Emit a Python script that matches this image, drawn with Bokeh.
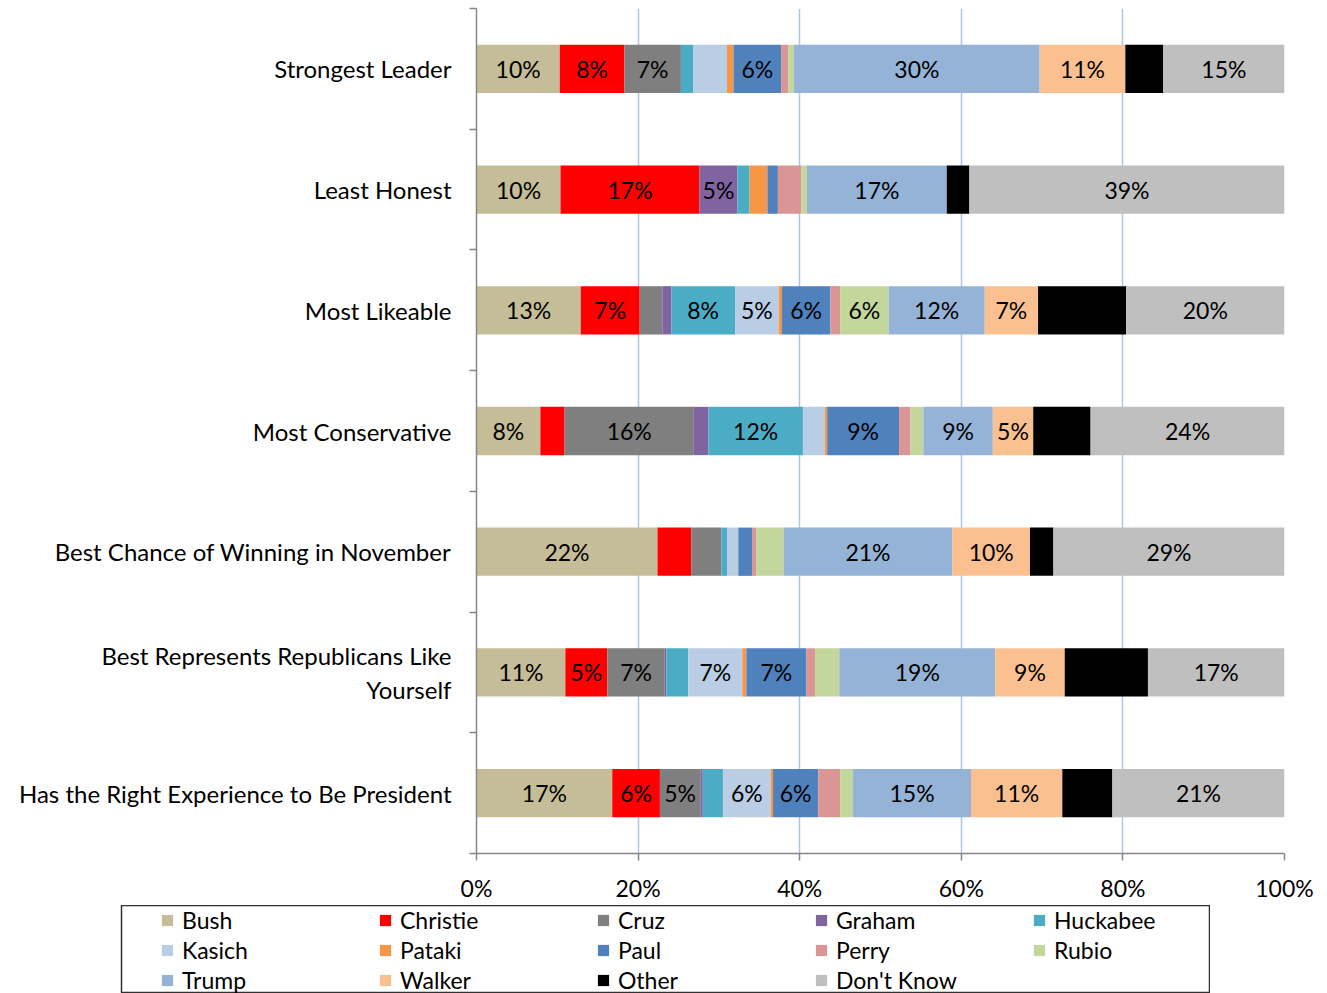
from bokeh.plotting import figure
from bokeh.models import (Range1d, LinearAxis, FixedTicker,
                          ColumnDataSource, Legend, LegendItem)
from bokeh.embed import file_html
from bokeh.resources import INLINE
from bokeh.core.properties import value
import numpy as np

categories = ["Strongest Leader", "Least Honest", "Most Likeable", "Most Conservative",
              "Best Chance of Winning in November", "Best Represents Republicans Like\nYourself",
              "Has the Right Experience to Be President"]
candidates = ["Bush", "Christie", "Cruz", "Graham", "Huckabee", "Kasich", "Pataki",
              "Paul", "Perry", "Rubio", "Trump", "Walker", "Other", "Don't Know"]
colors = ["#C4BD97", "#FF0000", "#7F7F7F", "#8064A2", "#4BACC6", "#B9CDE5", "#F79646",
          "#4F81BD", "#D99694", "#C3D69B", "#95B3D7", "#FAC090", "#000000", "#BFBFBF"]

bush       = [10.3, 10.4, 12.9, 7.9, 22.4, 11.0, 16.8]
christie   = [8.0, 17.2, 7.3, 3.0, 4.2, 5.2, 5.9]
cruz       = [7.0, 0.0, 2.8, 16.0, 3.7, 7.1, 5.0]
graham     = [0.0, 4.7, 1.1, 1.8, 0.0, 0.2, 0.3]
huckabee   = [1.5, 1.5, 7.9, 11.7, 0.7, 2.7, 2.5]
kasich     = [4.2, 0.0, 5.4, 2.7, 1.4, 6.7, 5.9]
pataki     = [0.8, 2.2, 0.4, 0.3, 0.0, 0.5, 0.3]
paul       = [5.9, 1.3, 6.0, 8.9, 1.7, 7.4, 5.6]
perry      = [0.9, 2.9, 1.2, 1.4, 0.5, 1.1, 2.7]
rubio      = [0.7, 0.7, 6.0, 1.6, 3.4, 3.0, 1.6]
trump      = [30.4, 17.3, 11.9, 8.6, 20.9, 19.3, 14.6]
walker     = [10.6, 0.0, 6.6, 5.0, 9.6, 8.6, 11.3]
other      = [4.7, 2.8, 10.9, 7.1, 2.9, 10.3, 6.2]
dont_know  = [15.0, 39.0, 19.6, 24.0, 28.6, 16.9, 21.3]

x_ticks = [0, 20, 40, 60, 80, 100]
x_tick_labels = ["0%", "20%", "40%", "60%", "80%", "100%"]

series = [bush, christie, cruz, graham, huckabee, kasich, pataki, paul, perry, rubio,
          trump, walker, other, dont_know]

FONT = "Lato"
FS_CAT = "24px"
FS = "23px"
AXIS_GRAY = "#868686"

n = len(categories)
ypos = [n - 0.5 - j for j in range(n)]  # first category on top

data = {"y": ypos}
for name, vals in zip(candidates, series):
    data[name] = vals
source = ColumnDataSource(data)

p = figure(width=1319, height=905, y_range=Range1d(0, n),
           x_range=Range1d(0, 100), y_axis_location=None, toolbar_location=None,
           output_backend="svg", min_border_left=476, min_border_right=35,
           min_border_top=8, min_border_bottom=52)
p.outline_line_color = None

p.hbar_stack(candidates, y="y", height=0.4, color=colors, line_color=None, source=source)

# data labels
arr = np.array(series)  # candidates x categories
cum = np.cumsum(arr, axis=0)
lx, ly, lt = [], [], []
for i, name in enumerate(candidates):
    if name == "Other":
        continue
    for j in range(n):
        v = arr[i, j]
        r = int(np.floor(v + 0.5))
        if r >= 5:
            lx.append(cum[i, j] - v / 2.0)
            ly.append(ypos[j])
            lt.append(f"{r}%")
p.text(x=lx, y=ly, text=lt, text_align="center", text_baseline="middle",
       text_font=value(FONT), text_font_size=FS, text_color="black")

# x axis
xa = p.xaxis[0]
xa.ticker = FixedTicker(ticks=x_ticks)
xa.major_label_overrides = {t: l for t, l in zip(x_ticks, x_tick_labels)}
xa.axis_line_color = AXIS_GRAY
xa.axis_line_width = 1.5
xa.major_tick_line_color = AXIS_GRAY
xa.major_tick_line_width = 1.5
xa.major_tick_out = 7
xa.major_tick_in = 0
xa.minor_tick_line_color = None
xa.major_label_text_font = FONT
xa.major_label_text_font_size = FS
xa.major_label_text_color = "black"
xa.major_label_standoff = 13

p.xgrid.ticker = FixedTicker(ticks=x_ticks)
p.xgrid.grid_line_color = "#AFC4E6"
p.xgrid.grid_line_width = 1.5
p.ygrid.visible = False

# category boundary ticks (axis line)
bnd = list(range(n + 1))
bax = LinearAxis(ticker=FixedTicker(ticks=bnd),
                 major_label_overrides={i: "" for i in bnd},
                 major_tick_out=7, major_tick_in=0, major_label_standoff=0,
                 major_label_text_font_size="1px",
                 axis_line_color=AXIS_GRAY, axis_line_width=1.5,
                 major_tick_line_color=AXIS_GRAY, major_tick_line_width=1.5,
                 minor_tick_line_color=None)
p.add_layout(bax, "left")

# category labels at the band centres
cax = LinearAxis(ticker=FixedTicker(ticks=ypos),
                 major_label_overrides={y: c for y, c in zip(ypos, categories)},
                 axis_line_color=None, major_tick_line_color=None, minor_tick_line_color=None,
                 major_tick_out=0, major_tick_in=0, major_label_standoff=18,
                 major_label_text_font=FONT, major_label_text_font_size=FS_CAT,
                 major_label_text_color="black")
p.add_layout(cax, "left")

# legend panel (separate root so its frame is not aligned to the chart's)
p2 = figure(width=1210, height=88, toolbar_location=None, output_backend="svg",
            x_range=Range1d(0, 1), y_range=Range1d(0, 1),
            x_axis_location=None, y_axis_location=None, min_border_left=121,
            min_border_right=0, min_border_top=0, min_border_bottom=0)
p2.outline_line_color = "#303030"
p2.outline_line_width = 1.5
p2.grid.visible = False
items = []
for name, c in zip(candidates, colors):
    r = p2.quad(left=[5], right=[6], top=[6], bottom=[5], fill_color=c, line_color=None)
    items.append(LegendItem(label=name, renderers=[r]))
leg = Legend(items=items, ncols=5, orientation="horizontal", location=(39, -1),
             padding=0, margin=0, spacing=2, glyph_width=14, glyph_height=14,
             label_width=194, label_height=28, label_standoff=8,
             label_text_font=FONT, label_text_font_size=FS, label_text_color="black",
             border_line_color=None, background_fill_alpha=0)
p2.add_layout(leg)

open("out.html", "w").write(file_html([p, p2], INLINE))
